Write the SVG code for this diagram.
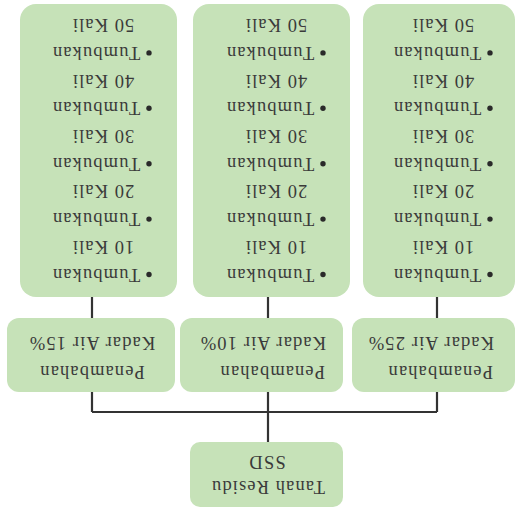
<svg xmlns="http://www.w3.org/2000/svg" width="518" height="508" viewBox="0 0 518 508">
<style>
.box{fill:#c6e2b8;}
.t{font-family:"Liberation Serif","Times New Roman",serif;font-size:18.5px;fill:#3a3a3a;letter-spacing:1.1px;}
.m{text-anchor:middle;}
.c{stroke:#333;stroke-width:2.2;fill:none;}
.b{fill:#2a2a2a;}
</style>
<rect width="518" height="508" fill="#ffffff"/>
<g transform="rotate(180 259 254)">
<g id="connectors">
<path class="c" d="M250,66 V96 M81,96 H426 M81,96 V116 M250,96 V116 M426,96 V116 M81,190 V211 M250,190 V211 M426,190 V211"/>
</g>
<g id="ssd">
<rect class="box" x="175" y="1" width="153" height="65" rx="10"/>
<text class="t m" x="250" y="27">Tanah Residu</text>
<text class="t m" x="251" y="52">SSD</text>
</g>
<g id="kadar25">
<rect class="box" x="3" y="116" width="163" height="74" rx="12"/>
<text class="t" x="25" y="142">Penambahan</text>
<text class="t" x="24" y="171">Kadar Air 25%</text>
</g>
<g id="kadar10">
<rect class="box" x="175" y="116" width="163" height="74" rx="12"/>
<text class="t" x="193" y="142">Penambahan</text>
<text class="t" x="192" y="171">Kadar Air 10%</text>
</g>
<g id="kadar15">
<rect class="box" x="343" y="116" width="168" height="74" rx="12"/>
<text class="t m" x="426" y="142">Penambahan</text>
<text class="t m" x="426" y="171">Kadar Air 15%</text>
</g>
<g id="list25">
<rect class="box" x="3" y="211" width="152" height="293" rx="16"/>
<circle class="b" cx="28" cy="233.5" r="2.7"/>
<text class="t m" x="81" y="239.5">Tumbukan</text>
<text class="t m" x="75" y="267.2">10 Kali</text>
<circle class="b" cx="28" cy="288.9" r="2.7"/>
<text class="t m" x="81" y="294.9">Tumbukan</text>
<text class="t m" x="75" y="322.6">20 Kali</text>
<circle class="b" cx="28" cy="344.3" r="2.7"/>
<text class="t m" x="81" y="350.3">Tumbukan</text>
<text class="t m" x="75" y="378">30 Kali</text>
<circle class="b" cx="28" cy="399.7" r="2.7"/>
<text class="t m" x="81" y="405.7">Tumbukan</text>
<text class="t m" x="75" y="433.4">40 Kali</text>
<circle class="b" cx="28" cy="455.1" r="2.7"/>
<text class="t m" x="81" y="461.1">Tumbukan</text>
<text class="t m" x="75" y="488.8">50 Kali</text>
</g>
<g id="list10">
<rect class="box" x="168" y="211" width="157" height="293" rx="16"/>
<circle class="b" cx="195" cy="233.5" r="2.7"/>
<text class="t m" x="248" y="239.5">Tumbukan</text>
<text class="t m" x="242" y="267.2">10 Kali</text>
<circle class="b" cx="195" cy="288.9" r="2.7"/>
<text class="t m" x="248" y="294.9">Tumbukan</text>
<text class="t m" x="242" y="322.6">20 Kali</text>
<circle class="b" cx="195" cy="344.3" r="2.7"/>
<text class="t m" x="248" y="350.3">Tumbukan</text>
<text class="t m" x="242" y="378">30 Kali</text>
<circle class="b" cx="195" cy="399.7" r="2.7"/>
<text class="t m" x="248" y="405.7">Tumbukan</text>
<text class="t m" x="242" y="433.4">40 Kali</text>
<circle class="b" cx="195" cy="455.1" r="2.7"/>
<text class="t m" x="248" y="461.1">Tumbukan</text>
<text class="t m" x="242" y="488.8">50 Kali</text>
</g>
<g id="list15">
<rect class="box" x="341" y="211" width="157" height="293" rx="16"/>
<circle class="b" cx="369" cy="233.5" r="2.7"/>
<text class="t m" x="422" y="239.5">Tumbukan</text>
<text class="t m" x="415" y="267.2">10 Kali</text>
<circle class="b" cx="369" cy="288.9" r="2.7"/>
<text class="t m" x="422" y="294.9">Tumbukan</text>
<text class="t m" x="415" y="322.6">20 Kali</text>
<circle class="b" cx="369" cy="344.3" r="2.7"/>
<text class="t m" x="422" y="350.3">Tumbukan</text>
<text class="t m" x="415" y="378">30 Kali</text>
<circle class="b" cx="369" cy="399.7" r="2.7"/>
<text class="t m" x="422" y="405.7">Tumbukan</text>
<text class="t m" x="415" y="433.4">40 Kali</text>
<circle class="b" cx="369" cy="455.1" r="2.7"/>
<text class="t m" x="422" y="461.1">Tumbukan</text>
<text class="t m" x="415" y="488.8">50 Kali</text>
</g>
</g>
</svg>
